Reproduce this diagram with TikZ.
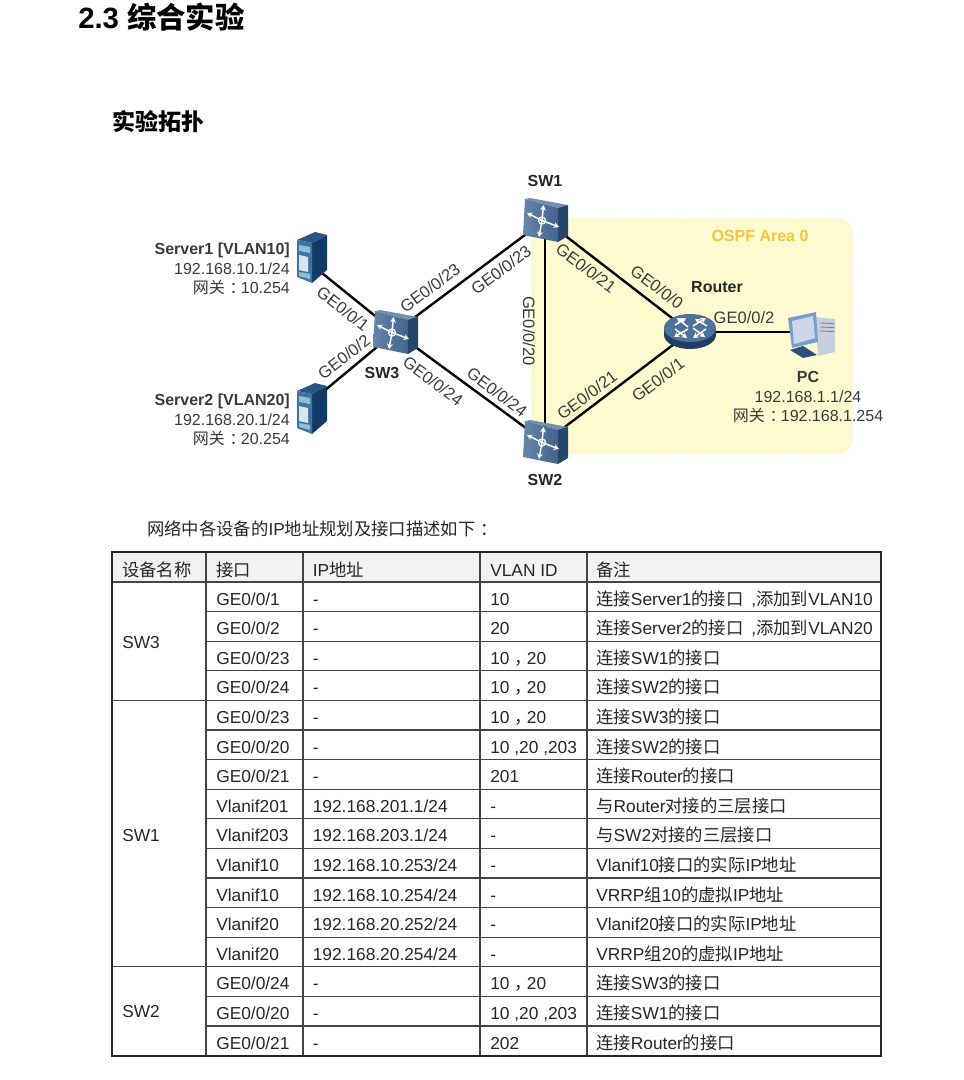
\documentclass[tikz,border=0pt]{standalone}
\usepackage{fontspec}
\setmainfont{Liberation Sans}
\newfontfamily\cjkfont{Noto Sans CJK SC}
\newcommand{\zh}[1]{{\cjkfont #1}}
\newcommand{\midpunct}[1]{\hspace{0.3em}\zh{#1}\hspace{-0.3em}}
\usepackage{xcolor}
\usetikzlibrary{arrows.meta, positioning}

\definecolor{areafill}{HTML}{FFFBD0}
\definecolor{areaedge}{HTML}{F6DC80}
\definecolor{areatext}{HTML}{F5C440}
\definecolor{labeltext}{HTML}{3A3A3A}
\definecolor{gridline}{HTML}{444444}
\definecolor{headfill}{HTML}{F2F2F2}
\definecolor{swtop}{HTML}{7390B0}
\definecolor{swleft}{HTML}{6585AA}
\definecolor{swright}{HTML}{42648C}
\definecolor{swside}{HTML}{26466C}
\definecolor{rttop}{HTML}{4F729B}
\definecolor{rtside}{HTML}{1E3E66}
\definecolor{srvside}{HTML}{123A66}
\definecolor{srvtop}{HTML}{2A5585}
\definecolor{srvfront}{HTML}{3E74A5}
\definecolor{srvslot}{HTML}{8FC0D0}
\definecolor{srvpanel}{HTML}{DDE5EC}
\definecolor{pcframe}{HTML}{7A9ECB}
\definecolor{pcscreen}{HTML}{CDD7E8}
\definecolor{pctower}{HTML}{C5D0DC}
\definecolor{pcbase}{HTML}{2D5078}

\tikzset{
    iconarrow/.style={-{Stealth[length=4pt,width=4.4pt]}, white, line width=1.1pt},
    switchicon/.pic={
        \fill[swtop] (-20,-21) -- (-15,-22) -- (23,-15) -- (13,-12) -- cycle;
        \fill[swside] (13,-12) -- (23,-15) -- (23,16) -- (13,22) -- cycle;
        \shade[left color=swleft, right color=swright] (-20,-21) -- (13,-12) -- (13,22) -- (-22,15) -- cycle;
        \foreach \tipx/\tipy in {-1.5/-15, -18/-7, 14/7, -6/17}
            \draw[iconarrow] (-3,0.5) -- (\tipx,\tipy);
        \draw[white, line width=1pt] (-3,0.5) circle (3.5);
    },
    routericon/.pic={
        \fill[rtside] (0,3) ellipse (26 and 14);
        \fill[rtside] (-26,-4) rectangle (26,3);
        \fill[rttop] (0,-4) ellipse (26 and 14);
        \draw[iconarrow] (-2,-5) -- (-13,-14);
        \draw[iconarrow] (-15,-7) -- (-4,-14);
        \draw[iconarrow] (3,-6) -- (16,-14);
        \draw[iconarrow] (17,-6) -- (5,-13);
        \draw[iconarrow] (-2,-3) -- (-16,5);
        \draw[iconarrow] (-15,-3) -- (-3,6);
        \draw[iconarrow] (3,-4) -- (15,5);
        \draw[iconarrow] (16,-3) -- (3,6);
    },
    pcicon/.pic={
        \fill[pctower] (7,-18) -- (27,-16) -- (27,17) -- (10,21) -- cycle;
        \foreach \rowy in {-12,-8,-4}
            \draw[gray, line width=0.6pt] (12,\rowy) -- (26,\rowy+0.6);
        \fill[pcbase] (-18,15) -- (-5,11) -- (9,20) -- (-5,23) -- cycle;
        \fill[pcframe] (-20,-17) -- (8,-23) -- (10,7) -- (-16,13) -- cycle;
        \fill[pcscreen] (-16,-14) -- (5,-19) -- (7,3) -- (-14,9) -- cycle;
    },
    servericon/.pic={
        \fill[srvside] (0,-15) -- (15,-23) -- (15,12) -- (0,25) -- cycle;
        \fill[srvtop] (-15,-18) -- (3,-26) -- (15,-23) -- (0,-15) -- cycle;
        \fill[srvfront] (-15,-18) -- (0,-15) -- (0,25) -- (-15,19) -- cycle;
        \fill[srvslot] (-13,-13) -- (-2,-11) -- (-2,-5) -- (-13,-7) -- cycle;
        \fill[srvpanel] (-13,-3) -- (-4,-1) -- (-4,14) -- (-13,12) -- cycle;
        \fill[srvslot] (-13,14) -- (-2,16) -- (-2,21) -- (-13,18) -- cycle;
    }
}

\begin{document}
\begin{tikzpicture}[
    x=0.75pt, y=-0.75pt,
    devbox/.style={minimum size=33pt, inner sep=0pt},
    srvbox/.style={minimum width=22.5pt, minimum height=39pt, inner sep=0pt},
    link/.style={draw=black, line width=1.8pt},
    port/.style={inner sep=0pt, text=labeltext, font=\fontsize{12.4}{14}\selectfont},
    devname/.style={inner sep=0pt, text=black!85, font=\fontsize{12}{14}\selectfont\bfseries},
    info/.style={inner sep=0pt, align=right, text=labeltext, font=\fontsize{12}{14.7}\selectfont},
    cell/.style={anchor=base west, inner sep=0pt, text=black!85, font=\fontsize{13}{15}\selectfont},
    inner/.style={draw=gridline, line width=1pt},
    outer/.style={draw=black!85, line width=2pt}
]
\useasboundingbox (0,0) rectangle (963,1080);

% headings
\node[anchor=base west, inner sep=0pt, font=\fontsize{22}{26}\selectfont\bfseries] (title) at (78,29) {2.3 {\cjkfont 综合实验}};
\node[anchor=base west, inner sep=0pt, font=\fontsize{17.3}{20}\selectfont\bfseries\cjkfont] (topo) at (112,131) {实验拓扑};

% OSPF area
\fill[areafill, draw=areaedge, densely dotted, rounded corners=10pt] (532,219) rectangle (852,453);
\node[devname, text=areatext] (area) at (760,236) {OSPF Area 0};

% devices
\node[devbox] (sw1) at (545,220) {};
\node[devbox] (sw2) at (545,442) {};
\node[devbox] (sw3) at (395,332) {};
\node[devbox] (router) at (690,332) {};
\node[devbox] (pc) at (808,335) {};
\node[srvbox] (srv1) at (312,258) {};
\node[srvbox] (srv2) at (312,409) {};
\coordinate (srv1port) at (312,265);
\coordinate (srv2port) at (312,401);

\draw[link] (srv1port) -- (sw3.center);
\draw[link] (srv2port) -- (sw3.center);
\draw[link] (sw3.center) -- (sw1.center);
\draw[link] (sw3.center) -- (sw2.center);
\draw[link] (sw1.center) -- (sw2.center);
\draw[link] (sw1.center) -- (router.center);
\draw[link] (sw2.center) -- (router.center);
\draw[link] (router.center) -- (router.center -| pc.center);

\pic at (sw1) {switchicon};
\pic at (sw2) {switchicon};
\pic at (sw3) {switchicon};
\pic at (router) {routericon};
\pic at (pc) {pcicon};
\pic at (srv1) {servericon};
\pic at (srv2) {servericon};

\node[devname, above=8pt of sw1] (sw1name) {SW1};
\node[devname, below=7pt of sw2] (sw2name) {SW2};
\node[devname] (sw3name) at (382,373) {SW3};
\node[devname] (routername) at (717,287) {Router};

\node[info, left=5pt of srv1, yshift=-8.3pt] (srv1info) {\textbf{Server1 [VLAN10]}\\192.168.10.1/24\\\zh{网关}\midpunct{：}10.254};
\node[info, left=5pt of srv2, yshift=-8.3pt] (srv2info) {\textbf{Server2 [VLAN20]}\\192.168.20.1/24\\\zh{网关}\midpunct{：}20.254};
\node[info, align=center, anchor=north] (pcinfo) at (808,371) {\textbf{PC}\\192.168.1.1/24\\\zh{网关}\midpunct{：}192.168.1.254};

% port labels
\node[port, rotate=-38] (p1) at (343,309) {GE0/0/1};
\node[port, rotate=38] (p2) at (344,357) {GE0/0/2};
\node[port, rotate=37] (p3) at (430,288) {GE0/0/23};
\node[port, rotate=37] (p4) at (501,270) {GE0/0/23};
\node[port, rotate=-37] (p5) at (433,381) {GE0/0/24};
\node[port, rotate=-37] (p6) at (497,392) {GE0/0/24};
\node[port, rotate=-90] (p7) at (529,331) {GE0/0/20};
\node[port, rotate=-37] (p8) at (586,268) {GE0/0/21};
\node[port, rotate=-37] (p9) at (657,287) {GE0/0/0};
\node[port, rotate=37] (p10) at (587,395) {GE0/0/21};
\node[port, rotate=37] (p11) at (658,380) {GE0/0/1};
\node[port] (p12) at (744,318) {GE0/0/2};

\node[cell] (intro) at (147,535) {\zh{网络中各设备的}IP\zh{地址规划及接口描述如下}\midpunct{：}};

% table
\fill[headfill] (112,552) rectangle (881,582);
\foreach \rowno in {1,...,15}
    \draw[inner] (206,582+29.6*\rowno) -- (881,582+29.6*\rowno);
\draw[inner] (112,582) -- (881,582);
\draw[inner] (112,700.4) -- (206,700.4);
\draw[inner] (112,966.4) -- (206,966.4);
\foreach \colx in {206,303,480,587}
    \draw[inner] (\colx,552) -- (\colx,1056);
\draw[outer] (112,552) rectangle (881,1056);

\node[cell] (h1) at (122,576) {\zh{设备名称}};
\node[cell] (h2) at (216,576) {\zh{接口}};
\node[cell] (h3) at (312.5,576) {IP\zh{地址}};
\node[cell] (h4) at (490,576) {VLAN ID};
\node[cell] (h5) at (596,576) {\zh{备注}};
\node[cell] (dev3) at (122,648.5) {SW3};
\node[cell] (dev1) at (122,841.5) {SW1};
\node[cell] (dev2) at (122,1017.5) {SW2};

\foreach \ifname/\ipaddr/\vid/\note [count=\i] in {
    {GE0/0/1}/{-}/{10}/{\zh{连接}Server1\zh{的接口}\hspace{0.45em},\zh{添加到}VLAN10},
    {GE0/0/2}/{-}/{20}/{\zh{连接}Server2\zh{的接口}\hspace{0.45em},\zh{添加到}VLAN20},
    {GE0/0/23}/{-}/{10\midpunct{，}20}/{\zh{连接}SW1\zh{的接口}},
    {GE0/0/24}/{-}/{10\midpunct{，}20}/{\zh{连接}SW2\zh{的接口}},
    {GE0/0/23}/{-}/{10\midpunct{，}20}/{\zh{连接}SW3\zh{的接口}},
    {GE0/0/20}/{-}/{10 ,20 ,203}/{\zh{连接}SW2\zh{的接口}},
    {GE0/0/21}/{-}/{201}/{\zh{连接}Router\zh{的接口}},
    {Vlanif201}/{192.168.201.1/24}/{-}/{\zh{与}Router\zh{对接的三层接口}},
    {Vlanif203}/{192.168.203.1/24}/{-}/{\zh{与}SW2\zh{对接的三层接口}},
    {Vlanif10}/{192.168.10.253/24}/{-}/{Vlanif10\zh{接口的实际}IP\zh{地址}},
    {Vlanif10}/{192.168.10.254/24}/{-}/{VRRP\zh{组}10\zh{的虚拟}IP\zh{地址}},
    {Vlanif20}/{192.168.20.252/24}/{-}/{Vlanif20\zh{接口的实际}IP\zh{地址}},
    {Vlanif20}/{192.168.20.254/24}/{-}/{VRRP\zh{组}20\zh{的虚拟}IP\zh{地址}},
    {GE0/0/24}/{-}/{10\midpunct{，}20}/{\zh{连接}SW3\zh{的接口}},
    {GE0/0/20}/{-}/{10 ,20 ,203}/{\zh{连接}SW1\zh{的接口}},
    {GE0/0/21}/{-}/{202}/{\zh{连接}Router\zh{的接口}}
}{
    \node[cell] (if\i) at (216,575.5+29.6*\i) {\ifname};
    \node[cell] (ip\i) at (312.5,575.5+29.6*\i) {\ipaddr};
    \node[cell] (vid\i) at (490,575.5+29.6*\i) {\vid};
    \node[cell] (note\i) at (596,575.5+29.6*\i) {\note};
}

\end{tikzpicture}
\end{document}
